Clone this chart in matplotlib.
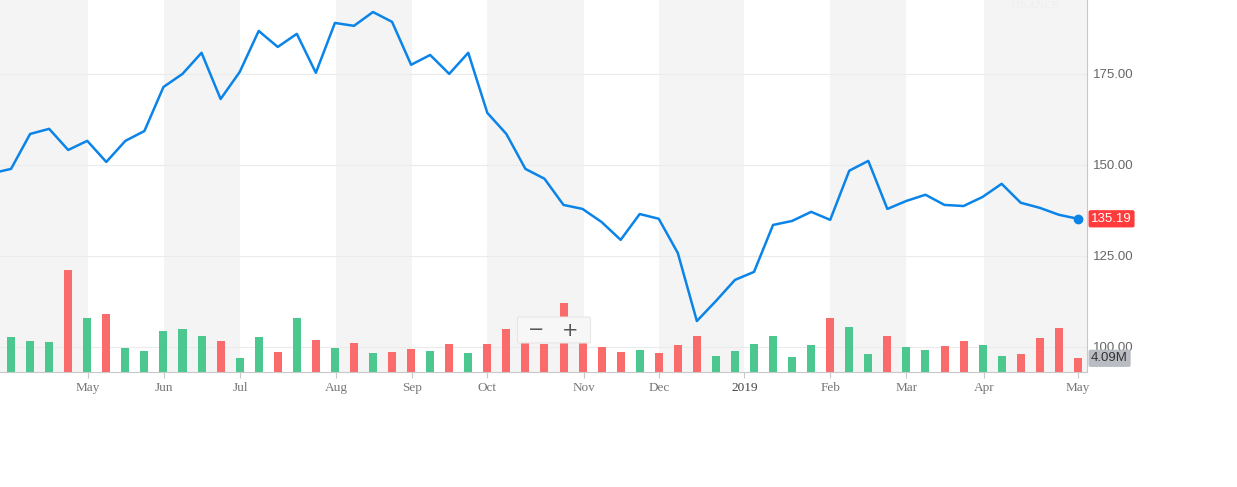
import numpy as np
import matplotlib
matplotlib.use("Agg")
import matplotlib.pyplot as plt
from matplotlib.patches import FancyBboxPatch

prices = [147.7, 148.9, 158.5, 159.9, 154.1, 156.6, 150.8, 156.6, 159.3, 171.4, 175.0, 180.8,
          168.1, 175.5, 186.8, 182.4, 186.0, 175.3, 189.0, 188.2, 192.0, 189.3, 177.5, 180.2,
          175.0, 180.8, 164.3, 158.5, 148.9, 146.2, 139.0, 137.9, 134.3, 129.4, 136.5, 135.2,
          125.8, 107.1, 112.6, 118.4, 120.6, 133.5, 134.6, 137.1, 134.9, 148.4, 151.1, 137.9,
          140.1, 141.8, 139.0, 138.7, 141.2, 144.8, 139.6, 138.2, 136.3, 135.19]
volumes = [10.4, 9.2, 8.9, 30.4, 16.0, 17.2, 7.1, 6.2, 12.1, 12.7, 10.7, 9.2, 4.1, 10.4, 5.9,
           16.0, 9.5, 7.1, 8.6, 5.6, 5.9, 6.8, 6.2, 8.3, 5.6, 8.3, 12.7, 8.7, 8.3, 20.5, 8.7, 7.4,
           6.1, 6.5, 5.8, 8.0, 10.7, 4.9, 6.2, 8.3, 10.7, 4.4, 8.0, 16.0, 13.3, 5.5, 10.7, 7.4,
           6.5, 7.7, 9.2, 8.0, 4.7, 5.5, 10.1, 13.0, 4.09]
vol_dir = "GGGRGRGGGGGRGGRGRGRGRRGRGRRRRRRRRGRRRGGGGGGRGGRGGRRGGRRRR"
month_labels = ["May", "Jun", "Jul", "Aug", "Sep", "Oct", "Nov", "Dec", "2019", "Feb", "Mar", "Apr", "May"]
month_pos = [4.04, 8.03, 12.02, 17.06, 21.05, 25.0, 30.08, 34.0, 38.5, 43.0, 47.0, 51.08, 56.0]
price_ticks = [100, 125, 150, 175]

W, H = 1237, 487
fig = plt.figure(figsize=(W/100, H/100), dpi=100)
ax = fig.add_axes([0, 115/487, 1087/1237, 372/487])
vax = ax.twinx()
xlo, xhi = -0.58, 56.48
ax.set_xlim(xlo, xhi)
ax.set_ylim(93.1, 195.3)
vax.set_ylim(0, 111)
vax.set_xlim(xlo, xhi)

# shaded month bands (on the back axes)
edges = [xlo] + month_pos
for k in range(0, len(edges) - 1, 2):
    vax.axvspan(edges[k], edges[k+1], color="#f4f4f4", lw=0, zorder=0)
vax.axvspan(month_pos[-1], xhi, color="#f4f4f4", lw=0, zorder=0)
for t in price_ticks:
    vax.axhline((t - 93.1) / (195.3 - 93.1) * 111, color="#ebebeb", lw=0.8, zorder=1)

xb = np.arange(len(volumes))
cols = ["#4cc790" if d == "G" else "#fa6b6b" for d in vol_dir]
vax.bar(xb, volumes, width=0.42, color=cols, zorder=2)
vax.set_yticks([])
for s in vax.spines.values():
    s.set_visible(False)

vax.set_zorder(0)
ax.set_zorder(1)
ax.patch.set_visible(False)
vax.patch.set_visible(True)
vax.patch.set_facecolor("white")

xp = np.arange(-1, len(prices) - 1)
ax.plot(xp, prices, color="#0a84e8", lw=1.8, zorder=5)
ax.plot([xp[-1]], [prices[-1]], "o", color="#0a84e8", ms=6, zorder=6, clip_on=False)

for s in ["top", "left"]:
    ax.spines[s].set_visible(False)
ax.spines["right"].set_color("#c8c8c8")
ax.spines["bottom"].set_color("#c8c8c8")
ax.yaxis.tick_right()
ax.set_yticks(price_ticks)
ax.set_yticklabels([f"{t:.2f}" for t in price_ticks], fontsize=9.5, color="#666666",
                   family="Liberation Sans")
ax.tick_params(axis="y", length=0, pad=4)
ax.set_xticks(month_pos)
ax.set_xticklabels(month_labels, fontsize=9.5, color="#777777", family="Liberation Serif")
ax.tick_params(axis="x", length=4, color="#c8c8c8", pad=3)
for lab in ax.get_xticklabels():
    if lab.get_text() == "2019":
        lab.set_color("#444444")

ax.annotate("135.19", xy=(1.0, prices[-1]), xycoords=("axes fraction", "data"),
            xytext=(3, 0), textcoords="offset points", ha="left", va="center",
            fontsize=9.5, color="white", family="Liberation Sans",
            bbox=dict(boxstyle="round,pad=0.2,rounding_size=0.15", fc="#ff3b3b", ec="none"))
ax.annotate("4.09M", xy=(1.0, 93.1 + volumes[-1] / 111 * (195.3 - 93.1)),
            xycoords=("axes fraction", "data"),
            xytext=(3, 0), textcoords="offset points", ha="left", va="center",
            fontsize=9.5, color="#333333", family="Liberation Sans",
            bbox=dict(boxstyle="round,pad=0.2,rounding_size=0.15", fc="#b9bcc2", ec="none"))

box = FancyBboxPatch((520/W, (487-342)/H), 68/W, 24/H, boxstyle="round,pad=0.002",
                     transform=fig.transFigure, fc="#f7f7f7", ec="#e6e6e6", lw=0.8, zorder=10)
fig.patches.append(box)
fig.text(536/W, (487-330)/H, "−", ha="center", va="center", fontsize=14, color="#555555", zorder=11)
fig.text(570/W, (487-330)/H, "+", ha="center", va="center", fontsize=14, color="#555555", zorder=11)
fig.add_artist(plt.Line2D([554/W, 554/W], [(487-339)/H, (487-321)/H], color="#cccccc", lw=0.8,
                          transform=fig.transFigure))
fig.text(1035/W, (487-1)/H, "FINANCE", ha="center", va="top", fontsize=8, color="#eeeeee",
         family="Liberation Serif")

fig.savefig("out.png", dpi=100)
